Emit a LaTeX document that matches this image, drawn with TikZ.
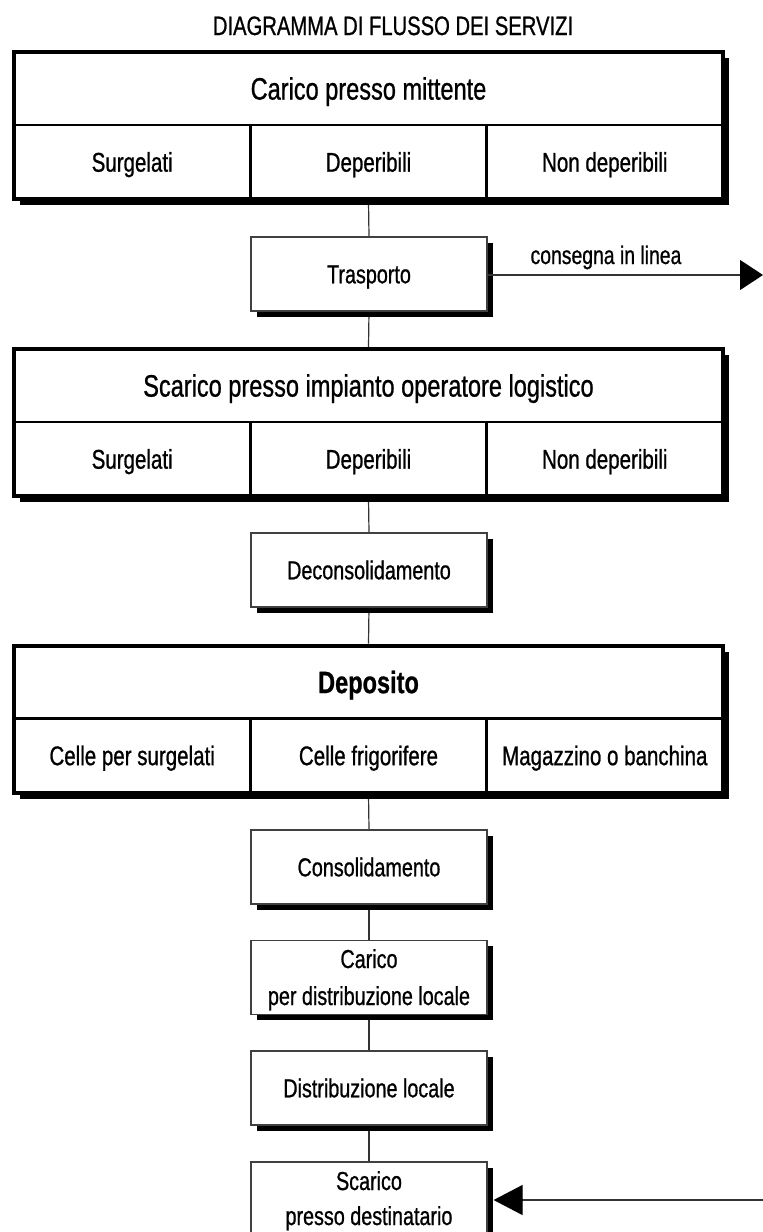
\documentclass[tikz,border=0pt]{standalone}
\usepackage{fontspec}
\setmainfont[FakeStretch=0.76, FakeBold=0.8]{Liberation Sans}
\usetikzlibrary{arrows.meta,shadows,backgrounds}
\begin{document}
\begin{tikzpicture}[x=1pt,y=-1pt,
  frame/.style={draw=black, line width=4pt, fill=white, minimum width=709pt, minimum height=147pt, inner sep=0pt,
    drop shadow={shadow xshift=6pt, shadow yshift=-6pt, fill=black, opacity=1}},
  titlecell/.style={draw=black, line width=2.5pt, minimum width=709pt, minimum height=73pt, inner sep=0pt,
    text height=22.2pt, text depth=0pt, font=\fontsize{31}{36}\selectfont},
  colcell/.style={draw=black, line width=2.5pt, minimum width=236.33pt, minimum height=74pt, inner sep=0pt,
    text height=19.3pt, text depth=0pt, font=\fontsize{27}{32}\selectfont},
  stepbox/.style={draw=black!75, line width=1.2pt, fill=white, minimum width=236pt, minimum height=74pt, inner sep=0pt,
    text height=18.6pt, text depth=0pt, font=\fontsize{26}{32}\selectfont,
    drop shadow={shadow xshift=5.5pt, shadow yshift=-5.5pt, fill=black, opacity=1}},
  linetext/.style={anchor=base, inner sep=0pt, font=\fontsize{26}{32}\selectfont},
  conn/.style={draw=black!80, line width=1.2pt},
  tip/.style={-{Triangle[length=#1, width=30pt, color=black]}}
]
\useasboundingbox (0,0) rectangle (763,1232);

% title
\node[anchor=base, inner sep=0pt, font=\fontsize{26.6}{30}\selectfont] (title) at (393,35) {DIAGRAMMA DI FLUSSO DEI SERVIZI};

% block 1
\node[frame] (b1) at (368.5,125.5) {};
\node[titlecell] (t1) at (368.5,88.5) {Carico presso mittente};
\node[colcell] (c11) at (132.17,162) {Surgelati};
\node[colcell] (c12) at (368.5,162) {Deperibili};
\node[colcell] (c13) at (604.83,162) {Non deperibili};

\node[stepbox] (s1) at (369,274) {Trasporto};

% block 2
\node[frame] (b2) at (368.5,422.5) {};
\node[titlecell] (t2) at (368.5,385.5) {Scarico presso impianto operatore logistico};
\node[colcell] (c21) at (132.17,459) {Surgelati};
\node[colcell] (c22) at (368.5,459) {Deperibili};
\node[colcell] (c23) at (604.83,459) {Non deperibili};

\node[stepbox] (s2) at (369,570) {Deconsolidamento};

% block 3
\node[frame] (b3) at (368.5,719) {};
\node[titlecell, font=\fontsize{31}{36}\selectfont\bfseries] (t3) at (368.5,682) {Deposito};
\node[colcell] (c31) at (132.17,755.5) {Celle per surgelati};
\node[colcell] (c32) at (368.5,755.5) {Celle frigorifere};
\node[colcell] (c33) at (604.83,755.5) {Magazzino o banchina};

\node[stepbox] (s3) at (369,867) {Consolidamento};
\node[stepbox] (s4) at (369,977.5) {};
\node[linetext] (s4a) at (369,968) {Carico};
\node[linetext] (s4b) at (369,1005) {per distribuzione locale};
\node[stepbox] (s5) at (369,1088) {Distribuzione locale};
\node[stepbox] (s6) at (369,1199) {};
\node[linetext] (s6a) at (369,1190) {Scarico};
\node[linetext] (s6b) at (369,1225) {presso destinatario};

% connectors
\begin{scope}[on background layer]
\draw[conn] (b1.south) -- (s1.north);
\draw[conn] (s1.south) -- (b2.north);
\draw[conn] (b2.south) -- (s2.north);
\draw[conn] (s2.south) -- (b3.north);
\draw[conn] (b3.south) -- (s3.north);
\draw[conn] (s3.south) -- (s4.north);
\draw[conn] (s4.south) -- (s5.north);
\draw[conn] (s5.south) -- (s6.north);
\end{scope}

% side arrows
\coordinate (out1) at (763,275);
\draw[conn, tip=23pt] (s1.east |- out1) -- (out1);
\node[linetext, font=\fontsize{25.5}{30}\selectfont] (lab) at (606,264) {consegna in linea};

\coordinate (in2) at (763,1200);
\coordinate (s6r) at ([xshift=6pt]s6.east);
\draw[conn, tip=29pt] (in2) -- (s6r |- in2);
\end{tikzpicture}
\end{document}
